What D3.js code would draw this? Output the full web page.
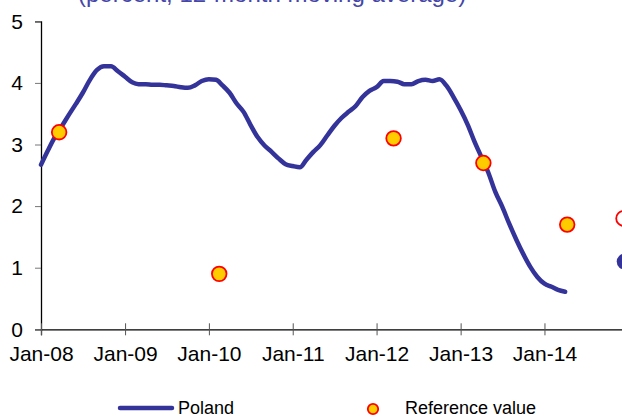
<!DOCTYPE html>
<html>
<head>
<meta charset="utf-8">
<script src="https://cdn.jsdelivr.net/npm/d3@7"></script>
<style>
  body { margin: 0; background: #fff; }
  svg { display: block; font-family: "Liberation Sans", Arial, sans-serif; }
</style>
</head>
<body>
<div id="chart"></div>
<script>
// Poland, monthly, Jan-08 .. Apr-14
const polandStart = "2008-01";
const polandValues = [
  2.67, 2.91, 3.12, 3.30, 3.48, 3.66, 3.84, 4.05, 4.21, 4.27, 4.27, 4.19,
  4.10, 4.01, 3.98, 3.98, 3.97, 3.97, 3.96, 3.95, 3.93, 3.92, 3.96, 4.03,
  4.06, 4.05, 3.96, 3.84, 3.67, 3.53, 3.32, 3.12, 2.98, 2.88, 2.77, 2.68,
  2.65, 2.63, 2.75, 2.88, 2.99, 3.15, 3.30, 3.43, 3.53, 3.62, 3.77, 3.87,
  3.93, 4.03, 4.03, 4.02, 3.98, 3.98, 4.03, 4.05, 4.03, 4.06, 3.95, 3.77,
  3.56, 3.32, 3.06, 2.80, 2.55, 2.23, 1.99, 1.71, 1.45, 1.22, 1.01, 0.85,
  0.74, 0.69, 0.64, 0.61
];
const refDates = ["2008-03-20", "2010-02-15", "2012-03-15", "2013-04-10", "2014-04-10"];
const refValues = [3.2, 0.9, 3.1, 2.7, 1.7];
// last points at the right edge (cut off in the original)
const lastDate = "2014-12-12";
const lastRef = 1.8;
const lastPoland = 1.1;

const yTicks = [0, 1, 2, 3, 4, 5];
const xTickYears = [2008, 2009, 2010, 2011, 2012, 2013, 2014];
const title = "(percent, 12-month moving average)";

const width = 622, height = 418;
const parse = d3.timeParse("%Y-%m-%d");
const t0 = d3.timeParse("%Y-%m")(polandStart);
const poland = polandValues.map((v, i) => ({ date: d3.timeMonth.offset(t0, i), value: v }));
const refs = refDates.map((d, i) => ({ date: parse(d), value: refValues[i] }));

const x = d3.scaleTime()
    .domain([new Date(2008, 0, 1), new Date(2015, 0, 1)])
    .range([41, 628.3]);
const y = d3.scaleLinear().domain([0, 5]).range([329.3, 21.3]);

const svg = d3.select("#chart").append("svg")
    .attr("width", width)
    .attr("height", height);

svg.append("text")
    .attr("x", 78).attr("y", 2)
    .attr("font-size", 24)
    .attr("fill", "#4646a8")
    .text(title);

// y axis
const yAxis = svg.append("g")
    .attr("transform", "translate(41,0)")
    .call(d3.axisLeft(y).tickValues(yTicks).tickSize(6).tickPadding(12).tickFormat(d3.format("d")));
yAxis.select(".domain").attr("stroke", "#000").attr("stroke-width", 1.3);
yAxis.selectAll(".tick line").attr("stroke", "#777");
yAxis.selectAll(".tick text").attr("font-size", 21).attr("fill", "#000")
    .attr("font-family", "Liberation Sans, Arial, sans-serif");

// x axis
const xAxis = svg.append("g")
    .attr("transform", "translate(0," + y(0) + ")")
    .call(d3.axisBottom(x)
      .tickValues(xTickYears.map(yr => new Date(yr, 0, 1)))
      .tickSize(6)
      .tickFormat(d3.timeFormat("%b-%y")));
xAxis.select(".domain").attr("stroke", "#000").attr("stroke-width", 1.3);
xAxis.selectAll(".tick line").attr("y1", -6).attr("y2", 6).attr("stroke", "#555");
xAxis.selectAll(".tick text")
    .attr("y", 32).attr("dy", 0)
    .attr("font-size", 21).attr("fill", "#000")
    .attr("font-family", "Liberation Sans, Arial, sans-serif");

// Poland line
const line = d3.line()
    .x(d => x(d.date))
    .y(d => y(d.value))
    .curve(d3.curveMonotoneX);

svg.append("path")
    .datum(poland)
    .attr("fill", "none")
    .attr("stroke", "#333399")
    .attr("stroke-width", 4.5)
    .attr("stroke-linejoin", "round")
    .attr("stroke-linecap", "round")
    .attr("d", line);

// reference values
svg.selectAll(".ref")
    .data(refs)
    .enter().append("circle")
    .attr("class", "ref")
    .attr("cx", d => x(d.date))
    .attr("cy", d => y(d.value))
    .attr("r", 7.3)
    .attr("fill", "#ffcc00")
    .attr("stroke", "#ff0000")
    .attr("stroke-width", 1.8);

svg.append("circle")
    .attr("cx", x(parse(lastDate)))
    .attr("cy", y(lastRef))
    .attr("r", 7.5)
    .attr("fill", "#fff")
    .attr("stroke", "#ff0000")
    .attr("stroke-width", 1.8);

svg.append("circle")
    .attr("cx", x(parse(lastDate)) + 1)
    .attr("cy", y(lastPoland))
    .attr("r", 8)
    .attr("fill", "#333399");

// legend
const legend = svg.append("g").attr("font-size", 18).attr("fill", "#000");
legend.append("line")
    .attr("x1", 120).attr("x2", 172)
    .attr("y1", 408).attr("y2", 408)
    .attr("stroke", "#333399").attr("stroke-width", 4.5)
    .attr("stroke-linecap", "round");
legend.append("text").attr("x", 178).attr("y", 414).text("Poland");
legend.append("circle")
    .attr("cx", 373).attr("cy", 409).attr("r", 5.2)
    .attr("fill", "#ffcc00").attr("stroke", "#ff0000").attr("stroke-width", 1.8);
legend.append("text").attr("x", 405).attr("y", 414).text("Reference value");
</script>
</body>
</html>
